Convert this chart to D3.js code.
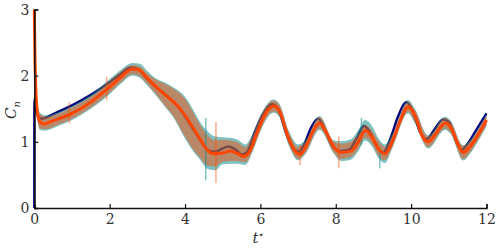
<!DOCTYPE html>
<html>
<head>
<meta charset="utf-8">
<script src="https://cdn.jsdelivr.net/npm/d3@7"></script>
<style>
  body { margin: 0; background: #fff; }
</style>
</head>
<body>
<div id="chart"></div>
<script>
// reference curve (navy)
const refT = [0, 0.003, 0.05, 0.12, 0.2, 0.5, 1.0, 1.5, 2.0, 2.3, 2.55, 2.75, 3.0, 3.2, 3.45, 3.7, 3.9, 4.15, 4.4, 4.6, 4.8, 5.0, 5.15, 5.35, 5.5, 5.65, 5.85, 6.1, 6.3, 6.45, 6.7, 6.9, 7.02, 7.15, 7.35, 7.53, 7.7, 7.9, 8.1, 8.35, 8.55, 8.75, 8.9, 9.1, 9.26, 9.45, 9.65, 9.88, 10.05, 10.25, 10.41, 10.6, 10.85, 11.0, 11.2, 11.34, 11.5, 11.75, 12.0];
const refCn = [0, 1.65, 1.48, 1.37, 1.35, 1.42, 1.55, 1.71, 1.9, 2.03, 2.12, 2.1, 1.95, 1.84, 1.73, 1.6, 1.47, 1.25, 1.03, 0.88, 0.85, 0.9, 0.93, 0.88, 0.81, 0.85, 1.15, 1.45, 1.57, 1.52, 1.1, 0.88, 0.85, 0.95, 1.22, 1.35, 1.2, 0.95, 0.86, 0.88, 1.05, 1.24, 1.15, 0.92, 0.84, 1.05, 1.38, 1.6, 1.45, 1.13, 1.04, 1.17, 1.34, 1.3, 1.0, 0.88, 0.97, 1.2, 1.43];

// mean curve (orange)
const meanT = [0, 0.02, 0.04, 0.08, 0.15, 0.25, 0.5, 1.0, 1.5, 2.0, 2.3, 2.6, 2.8, 3.0, 3.2, 3.45, 3.7, 3.9, 4.15, 4.4, 4.6, 4.75, 5.0, 5.2, 5.4, 5.55, 5.7, 5.9, 6.15, 6.35, 6.5, 6.75, 6.95, 7.05, 7.2, 7.4, 7.57, 7.75, 7.95, 8.15, 8.4, 8.6, 8.78, 8.95, 9.15, 9.3, 9.5, 9.7, 9.92, 10.1, 10.3, 10.45, 10.65, 10.9, 11.05, 11.25, 11.38, 11.55, 11.8, 12.0];
const meanCn = [3.0, 2.2, 1.8, 1.45, 1.3, 1.27, 1.32, 1.43, 1.6, 1.83, 1.98, 2.1, 2.08, 1.96, 1.85, 1.72, 1.6, 1.48, 1.27, 1.04, 0.87, 0.82, 0.83, 0.86, 0.82, 0.78, 0.84, 1.12, 1.44, 1.54, 1.47, 1.05, 0.84, 0.81, 0.92, 1.17, 1.28, 1.14, 0.92, 0.84, 0.86, 1.0, 1.17, 1.08, 0.88, 0.82, 1.0, 1.3, 1.53, 1.4, 1.08, 1.0, 1.12, 1.28, 1.22, 0.95, 0.84, 0.92, 1.13, 1.33];

// spread bands
const bandT = [0.03, 0.08, 0.15, 0.3, 0.6, 1.0, 1.5, 2.0, 2.3, 2.6, 2.8, 3.0, 3.2, 3.45, 3.7, 4.0, 4.2, 4.4, 4.6, 4.8, 5.0, 5.2, 5.4, 5.6, 5.8, 6.0, 6.35, 6.5, 6.75, 7.0, 7.2, 7.57, 7.95, 8.15, 8.4, 8.6, 8.78, 8.95, 9.15, 9.3, 9.5, 9.92, 10.1, 10.45, 10.9, 11.05, 11.38, 11.55, 11.8, 12.0];
const salmonLo = [1.7, 1.35, 1.2, 1.19, 1.25, 1.35, 1.52, 1.74, 1.9, 2.02, 1.99, 1.87, 1.74, 1.56, 1.38, 1.08, 0.9, 0.76, 0.64, 0.63, 0.7, 0.71, 0.71, 0.69, 0.88, 1.18, 1.46, 1.4, 0.97, 0.74, 0.84, 1.2, 0.84, 0.74, 0.77, 0.9, 1.06, 0.98, 0.78, 0.72, 0.92, 1.45, 1.3, 0.92, 1.2, 1.14, 0.74, 0.83, 1.05, 1.25];
const salmonHi = [2.0, 1.6, 1.42, 1.38, 1.42, 1.52, 1.68, 1.92, 2.06, 2.16, 2.14, 2.03, 1.95, 1.88, 1.8, 1.65, 1.46, 1.26, 1.1, 1.02, 1.03, 1.02, 0.99, 0.92, 1.1, 1.38, 1.62, 1.56, 1.15, 0.92, 1.0, 1.37, 1.0, 0.97, 1.0, 1.12, 1.26, 1.18, 1.0, 0.92, 1.1, 1.6, 1.48, 1.08, 1.36, 1.3, 0.94, 1.0, 1.2, 1.4];
const tealLo = [1.68, 1.33, 1.18, 1.17, 1.23, 1.33, 1.5, 1.72, 1.88, 2.0, 1.97, 1.85, 1.72, 1.54, 1.36, 1.05, 0.87, 0.73, 0.59, 0.57, 0.66, 0.67, 0.67, 0.65, 0.86, 1.16, 1.44, 1.38, 0.95, 0.72, 0.82, 1.18, 0.82, 0.71, 0.73, 0.86, 1.02, 0.94, 0.74, 0.68, 0.9, 1.43, 1.28, 0.9, 1.18, 1.12, 0.72, 0.81, 1.03, 1.23];
const tealHi = [2.02, 1.62, 1.44, 1.4, 1.44, 1.54, 1.71, 1.95, 2.09, 2.19, 2.18, 2.07, 1.97, 1.9, 1.82, 1.68, 1.5, 1.3, 1.16, 1.08, 1.07, 1.06, 1.03, 0.96, 1.13, 1.4, 1.64, 1.58, 1.17, 0.96, 1.03, 1.39, 1.02, 1.01, 1.04, 1.18, 1.33, 1.25, 1.04, 0.96, 1.12, 1.63, 1.5, 1.1, 1.38, 1.32, 0.95, 1.02, 1.22, 1.42];

// short vertical outliers in the bands
const spikeT = [0.93, 1.92, 4.55, 4.82, 7.05, 8.08, 8.68, 9.17];
const spikeLo = [1.28, 1.63, 0.42, 0.38, 0.65, 0.6, 0.95, 0.6];
const spikeHi = [1.6, 1.98, 1.36, 1.3, 0.95, 1.08, 1.36, 0.9];
const spikeBand = ["salmon", "salmon", "teal", "salmon", "salmon", "salmon", "teal", "teal"];

const xTicks = [0, 2, 4, 6, 8, 10, 12];
const yTicks = [0, 1, 2, 3];

const serif = "'DejaVu Serif', serif";

const W = 498, H = 249;
const svg = d3.select("#chart").append("svg")
  .attr("width", W).attr("height", H);

const x = d3.scaleLinear().domain([0, 12]).range([34.3, 486.5]);
const y = d3.scaleLinear().domain([0, 3]).range([208, 9.5]);

const tealColor = "rgba(20,140,140,0.55)";
const salmonColor = "rgba(255,69,0,0.46)";

const refPts = refT.map((t, i) => [t, refCn[i]]);
const meanPts = meanT.map((t, i) => [t, meanCn[i]]);

const line = d3.line().x(d => x(d[0])).y(d => y(d[1])).curve(d3.curveMonotoneX);

// navy reference below the bands
svg.append("path")
  .attr("d", line(refPts))
  .attr("fill", "none")
  .attr("stroke", "#00007a")
  .attr("stroke-width", 2.4);

const band = (lo, hi) => d3.area()
  .x((t) => x(t))
  .y0((t, i) => y(lo[i]))
  .y1((t, i) => y(hi[i]))
  .curve(d3.curveMonotoneX)(bandT);

svg.append("path").attr("d", band(tealLo, tealHi)).attr("fill", tealColor);
svg.append("path").attr("d", band(salmonLo, salmonHi)).attr("fill", salmonColor);

spikeT.forEach((t, i) => {
  svg.append("rect")
    .attr("x", x(t) - 0.75)
    .attr("width", 1.5)
    .attr("y", y(spikeHi[i]))
    .attr("height", y(spikeLo[i]) - y(spikeHi[i]))
    .attr("fill", spikeBand[i] === "teal" ? tealColor : salmonColor);
});

svg.append("path")
  .attr("d", line(meanPts))
  .attr("fill", "none")
  .attr("stroke", "#ff4500")
  .attr("stroke-width", 3);

// axes
const xAxis = svg.append("g")
  .attr("transform", `translate(0,${y(0)})`)
  .call(d3.axisBottom(x).tickValues(xTicks).tickSize(-4).tickPadding(6).tickFormat(d3.format("d")));
const yAxis = svg.append("g")
  .attr("transform", `translate(${x(0)},0)`)
  .call(d3.axisLeft(y).tickValues(yTicks).tickSize(-4).tickPadding(5).tickFormat(d3.format("d")));

[xAxis, yAxis].forEach((g) => {
  g.attr("font-family", serif).attr("font-size", 14);
  g.select(".domain").attr("stroke", "#111").attr("stroke-width", 1.5);
  g.selectAll(".tick line").attr("stroke", "#111").attr("stroke-width", 1.2);
  g.selectAll("text").attr("fill", "#333");
});
xAxis.selectAll("text").attr("dy", "0.72em");
yAxis.selectAll("text").attr("dy", "0.34em");

// axis labels
svg.append("text")
  .attr("x", x(6) - 2).attr("y", 243)
  .attr("text-anchor", "middle")
  .attr("font-family", serif)
  .attr("font-size", 15)
  .attr("font-style", "italic")
  .attr("fill", "#333")
  .html("t<tspan dy='-5' font-size='10' font-style='normal'>⋆</tspan>");

svg.append("text")
  .attr("transform", "translate(16,110) rotate(-90)")
  .attr("text-anchor", "middle")
  .attr("font-family", serif)
  .attr("font-size", 15)
  .attr("font-style", "italic")
  .attr("fill", "#333")
  .html("C<tspan dy='4' font-size='10'>n</tspan>");
</script>
</body>
</html>
